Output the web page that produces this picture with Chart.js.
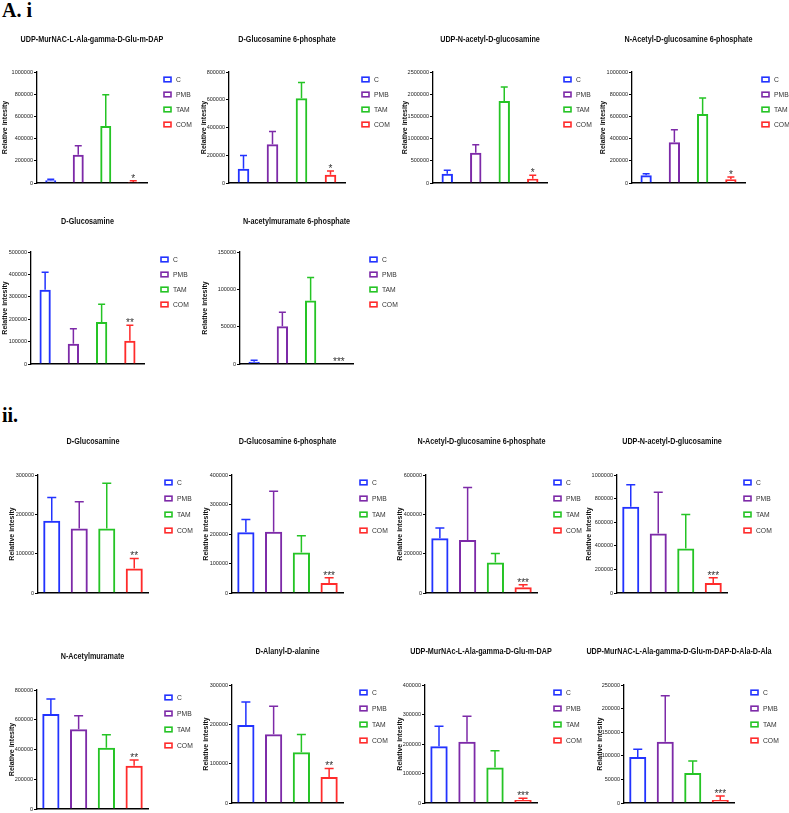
<!DOCTYPE html>
<html>
<head>
<meta charset="utf-8">
<script src="https://cdn.jsdelivr.net/npm/chart.js@4.4.0/dist/chart.umd.min.js"></script>
<style>
html, body { margin: 0; padding: 0; background: #fff; overflow: hidden; }
body { width: 789px; height: 813px; position: relative; }
canvas { position: absolute; }
.sec { position: absolute; font-family: "Liberation Serif", "Times New Roman", serif; font-weight: bold; font-size: 20px; line-height: 1; color: #000; }
</style>
</head>
<body>
<div class="sec" style="left:2px;top:0px">A. i</div>
<div class="sec" style="left:2px;top:405px">ii.</div>
<script>
const groups = ['C', 'PMB', 'TAM', 'COM'];
const groupColors = ['#2233ff', '#7d2aa8', '#25c425', '#ff2b2b'];

const titles = [
    'UDP-MurNAC-L-Ala-gamma-D-Glu-m-DAP',
    'D-Glucosamine 6-phosphate',
    'UDP-N-acetyl-D-glucosamine',
    'N-Acetyl-D-glucosamine 6-phosphate',
    'D-Glucosamine',
    'N-acetylmuramate 6-phosphate',
    'D-Glucosamine',
    'D-Glucosamine 6-phosphate',
    'N-Acetyl-D-glucosamine 6-phosphate',
    'UDP-N-acetyl-D-glucosamine',
    'N-Acetylmuramate',
    'D-Alanyl-D-alanine',
    'UDP-MurNAc-L-Ala-gamma-D-Glu-m-DAP',
    'UDP-MurNAC-L-Ala-gamma-D-Glu-m-DAP-D-Ala-D-Ala'
];

// mean values per panel (C, PMB, TAM, COM)
const means = [
    [25000, 255000, 513000, 10000],
    [103000, 279000, 610000, 60000],
    [210000, 683000, 1847000, 98000],
    [69000, 366000, 622000, 33000],
    [331000, 90000, 188000, 104000],
    [3000, 50600, 85000, 0],
    [184000, 164000, 164000, 62500],
    [206000, 208000, 137000, 34000],
    [279000, 270000, 155000, 29000],
    [730000, 504000, 377000, 85000],
    [639000, 536000, 412000, 291000],
    [198000, 175000, 129000, 66000],
    [192000, 208000, 120000, 10000],
    [97500, 130000, 63500, 6400]
];

// upper error (SD) per panel
const sds = [
    [8000, 80000, 283000, 10000],
    [96000, 93000, 115000, 26000],
    [75000, 180000, 315000, 75000],
    [15000, 114000, 144000, 21000],
    [79000, 67000, 79000, 69000],
    [2000, 18800, 31000, 0],
    [59000, 68000, 115000, 25500],
    [43000, 137000, 57000, 18000],
    [51000, 266000, 46000, 13000],
    [188000, 350000, 288000, 45000],
    [100000, 91000, 88000, 38000],
    [59000, 71000, 45000, 22000],
    [68000, 86000, 57000, 6000],
    [16500, 97000, 25500, 8600]
];

const stars = ['*', '*', '*', '*', '**', '***', '**', '***', '***', '***', '**', '**', '***', '***'];
const yMax = [1000000, 800000, 2500000, 1000000, 500000, 150000, 300000, 400000, 600000, 1000000, 800000, 300000, 400000, 250000];
const yStep = [200000, 200000, 500000, 200000, 100000, 50000, 100000, 100000, 200000, 200000, 200000, 100000, 100000, 50000];

// page layout: axis x, axis top, axis right, axis bottom, y-title distance, chart-title gap
const frames = [
    [37, 72, 147, 183, 32, 32],
    [229, 72, 345, 183, 25, 32],
    [433, 72, 547, 183, 28, 32],
    [632, 72, 745, 183, 29, 32],
    [31, 252, 144, 364, 26, 30],
    [240, 252, 353, 364, 35, 30],
    [38, 475, 148, 593, 26, 33],
    [232, 475, 343, 593, 26, 33],
    [426, 475, 537, 593, 26, 33],
    [617, 475, 727, 593, 28, 33],
    [37, 690, 148, 809, 25, 33],
    [232, 685, 343, 803, 26, 33],
    [425, 685, 537, 803, 25, 33],
    [624, 685, 734, 803, 24, 33]
];

const AXW = 40, LEFT = 12, TOPH = 45, RIGHT = 52, BOT = 8;
const SANS = '"Liberation Sans", Arial, sans-serif';

// title above the plot, squeezed like the condensed original
const panelTitle = {
    id: 'panelTitle',
    afterDraw(chart, args, opts) {
        const ctx = chart.ctx;
        const a = chart.chartArea;
        ctx.save();
        ctx.translate((a.left + a.right) / 2, a.top - opts.gap);
        ctx.scale(0.8, 1);
        ctx.font = 'bold 9px ' + SANS;
        ctx.fillStyle = '#111';
        ctx.textAlign = 'center';
        ctx.textBaseline = 'middle';
        ctx.fillText(opts.text, 0, 0);
        ctx.restore();
    }
};

// error bars + significance stars
const errorBars = {
    id: 'errorBars',
    afterDatasetsDraw(chart, args, opts) {
        const ctx = chart.ctx;
        const y = chart.scales.y;
        const ds = chart.data.datasets[0];
        const bars = chart.getDatasetMeta(0).data;
        bars.forEach((bar, i) => {
            const sd = opts.sd[i];
            if (!sd) return;
            const top = y.getPixelForValue(ds.data[i] + sd);
            ctx.save();
            ctx.strokeStyle = ds.borderColor[i];
            ctx.lineWidth = 1.5;
            ctx.beginPath();
            ctx.moveTo(bar.x, bar.y);
            ctx.lineTo(bar.x, top);
            ctx.moveTo(bar.x - opts.cap / 2, top);
            ctx.lineTo(bar.x + opts.cap / 2, top);
            ctx.stroke();
            ctx.restore();
        });
        const last = bars[bars.length - 1];
        const ty = y.getPixelForValue(ds.data[3] + opts.sd[3]);
        ctx.save();
        ctx.fillStyle = '#333';
        ctx.font = '10px ' + SANS;
        ctx.textAlign = 'center';
        ctx.textBaseline = 'alphabetic';
        ctx.fillText(opts.stars, last.x, ty + 1);
        ctx.restore();
    }
};

// legend to the right of the plot
const sideLegend = {
    id: 'sideLegend',
    afterDraw(chart, args, opts) {
        const ctx = chart.ctx;
        const a = chart.chartArea;
        const ds = chart.data.datasets[0];
        chart.data.labels.forEach((lab, i) => {
            const x = a.right + 17;
            const yy = a.top + 7.5 + i * opts.gap;
            ctx.save();
            ctx.strokeStyle = ds.borderColor[i];
            ctx.lineWidth = 1.6;
            ctx.strokeRect(x, yy - 2.3, 7, 4.6);
            ctx.translate(x + 12, yy);
            ctx.scale(0.9, 1);
            ctx.fillStyle = '#333';
            ctx.font = '7.5px ' + SANS;
            ctx.textAlign = 'left';
            ctx.textBaseline = 'middle';
            ctx.fillText(lab, 0, 0);
            ctx.restore();
        });
    }
};

function drawPanel(k)
{
    const [ax, top, right, bottom, ydist, tgap] = frames[k];
    const isB = k >= 6;
    const canvas = document.createElement('canvas');
    canvas.width = LEFT + AXW + (right - ax) + RIGHT;
    canvas.height = TOPH + (bottom - top) + BOT;
    canvas.style.left = (ax - AXW - LEFT) + 'px';
    canvas.style.top = (top - TOPH) + 'px';
    document.body.appendChild(canvas);

    new Chart(canvas, {
        type: 'bar',
        data: {
            labels: groups,
            datasets: [{
                data: means[k],
                borderColor: groupColors,
                backgroundColor: 'rgba(255,255,255,0)',
                borderWidth: 2,
                borderSkipped: 'start',
                barPercentage: isB ? 0.62 : 0.4,
                categoryPercentage: 1
            }]
        },
        options: {
            responsive: false,
            animation: false,
            devicePixelRatio: 1,
            layout: { padding: { left: LEFT, right: RIGHT, top: TOPH, bottom: BOT - 6 } },
            plugins: {
                legend: { display: false },
                title: { display: false },
                tooltip: { enabled: false },
                panelTitle: { text: titles[k], gap: tgap },
                errorBars: { sd: sds[k], cap: isB ? 9 : 7, stars: stars[k] },
                sideLegend: { gap: isB ? 16 : 15 }
            },
            scales: {
                x: {
                    grid: { display: false, drawTicks: false },
                    ticks: { display: false },
                    border: { color: '#000', width: 1.5 },
                    afterFit(s) { s.height = 6; }
                },
                y: {
                    min: 0,
                    max: yMax[k],
                    ticks: {
                        stepSize: yStep[k],
                        color: '#222',
                        padding: 1,
                        font: { family: SANS, size: 5.5 },
                        callback: v => String(v)
                    },
                    grid: { drawOnChartArea: false, tickLength: 3, color: '#000', tickWidth: 1 },
                    border: { color: '#000', width: 1.3 },
                    title: {
                        display: true,
                        text: 'Relative intesity',
                        color: '#111',
                        font: { family: SANS, size: 7, weight: 'bold', lineHeight: 1.2 },
                        padding: { top: AXW - ydist - 4.2, bottom: 0 }
                    },
                    afterFit(s) { s.width = AXW; }
                }
            }
        },
        plugins: [panelTitle, errorBars, sideLegend]
    });
}

titles.forEach((t, k) => drawPanel(k));
</script>
</body>
</html>
